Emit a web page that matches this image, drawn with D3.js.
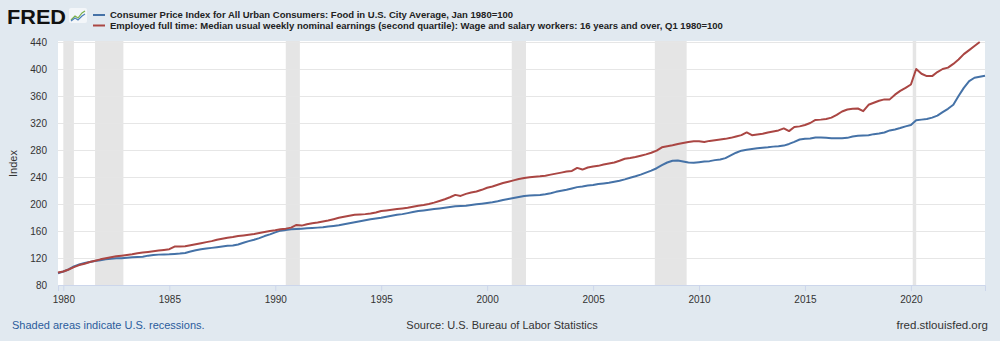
<!DOCTYPE html>
<html>
<head>
<meta charset="utf-8">
<script src="https://cdn.jsdelivr.net/npm/d3@7/dist/d3.min.js"></script>
<style>
  html, body { margin: 0; padding: 0; background: #e1e9f0; }
  svg { display: block; font-family: "Liberation Sans", Arial, sans-serif; }
</style>
</head>
<body>
<svg id="chart" width="1000" height="341"></svg>
<script>
// Quarterly observations, first quarter = 1979 Q4
const firstQuarter = "1979-10-01";

// Consumer Price Index for All Urban Consumers: Food, Jan 1980=100
const cpiFood = [
  97.5,
  100, 103, 107.5, 110.5,
  112.5, 114, 115.5, 116.5,
  118, 119, 119.5, 119.8,
  120.5, 121, 121.5, 122,
  123.5, 124.5, 125, 125.2,
  125.5, 126, 126.5, 127.5,
  129.5, 131.5, 133, 134,
  135, 136, 137, 138,
  138.5, 140, 142.5, 145,
  147, 149.5, 152.5, 155,
  158, 160.5, 161.5, 162.5,
  163, 163.5, 164, 164.5,
  165, 165.5, 166.5, 167.5,
  168.5, 170, 171.5, 173,
  174.5, 176, 177.5, 178.5,
  179.5, 181, 182.5, 184,
  185, 186.5, 188, 189.5,
  190.5, 191.5, 192.5, 193.5,
  194.5, 195.5, 196.5, 197,
  197.5, 198.5, 199.5, 200.5,
  201.5, 202.5, 204, 206,
  207.5, 209, 210.5, 212,
  212.5, 213, 213.5, 214.5,
  216, 218, 219.5, 221,
  223, 225, 226, 227.5,
  228, 229.5, 230.5, 231.5,
  233, 234.5, 236.5, 239,
  241, 243.5, 246.5, 249.5,
  253, 257.5, 261.5, 264,
  264.5, 263, 261.5, 261,
  262, 263, 263.5, 265,
  266, 268, 272, 276,
  279, 280.5, 281.5, 282.5,
  283.5, 284, 285, 285.5,
  286.5, 289, 292, 295.5,
  296.5, 297, 298.5, 298.5,
  298, 297.5, 297.5, 297.5,
  298, 300, 301, 301.5,
  302, 303.5, 304.5, 306,
  309, 310.5, 312.5, 315,
  317, 324, 325, 326,
  328, 331, 336, 341,
  347, 360, 372, 382,
  387, 388.5, 390
];

// Employed full time: median usual weekly nominal earnings, Q1 1980=100
const earnings = [
  98.5,
  100, 103, 106.5, 109.5,
  111.5, 114, 116, 118,
  119.5, 121, 122.5, 123.5,
  124.5, 125.5, 127, 128,
  129, 130, 131, 132,
  133, 137, 137, 137.5,
  139, 140.5, 142, 143.5,
  145, 147, 148.5, 150,
  151, 152.5, 153.5, 154.5,
  155.5, 157, 158.5, 160,
  161, 162.5, 163.5, 165,
  169, 168, 170, 171.5,
  172.5, 174, 175.5, 177.5,
  179.5, 181, 182.5, 184,
  184.5, 185, 186, 187.5,
  189.5, 190.5, 191.5, 192.5,
  193.5, 194.5, 196, 197.5,
  198.5, 200, 202, 204.5,
  207, 210, 213.5, 212,
  215, 217, 218.5, 221,
  224, 226, 228.5, 231,
  233, 235, 237, 238.5,
  239.5, 240.5, 241, 242,
  243.5, 245, 246.5, 248,
  249, 253.5, 251, 254,
  255.5, 256.5, 258.5, 260,
  261.5, 264, 267, 268,
  269.5, 271.5, 273.5, 276,
  279, 284, 285.5, 287,
  289, 290.5, 292, 293,
  293, 292, 293.5, 294.5,
  295.5, 296.5, 298, 300,
  302, 306, 302, 303,
  304, 306, 307.5, 309,
  312, 308, 314, 315,
  317, 320, 324.5, 325,
  326, 328, 332, 337,
  340, 341, 341.5, 337.5,
  347, 350, 353, 355,
  355, 362, 367.5, 372,
  377, 400, 393, 389.5,
  389.5, 395.5, 400, 402,
  407.5, 414, 422, 428,
  434, 440
];

// NBER recession periods
const recessionStarts = ["1980-01-01", "1981-07-01", "1990-07-01", "2001-03-01", "2007-12-01", "2020-02-01"];
const recessionEnds   = ["1980-07-01", "1982-11-01", "1991-03-01", "2001-11-01", "2009-06-01", "2020-04-01"];

const yTicks = [80, 120, 160, 200, 240, 280, 320, 360, 400, 440];
const xTickYears = [1980, 1985, 1990, 1995, 2000, 2005, 2010, 2015, 2020];

const seriesNames = [
  "Consumer Price Index for All Urban Consumers: Food in U.S. City Average, Jan 1980=100",
  "Employed full time: Median usual weekly nominal earnings (second quartile): Wage and salary workers: 16 years and over, Q1 1980=100"
];
const seriesColors = ["#4572a7", "#aa4643"];

const parse = d3.utcParse("%Y-%m-%d");
const start = parse(firstQuarter);
const toPoints = vals => vals.map((v, i) => ({ date: d3.utcMonth.offset(start, 3 * i), value: v }));

const svg = d3.select("#chart");
const plot = { left: 58, right: 985, top: 42, bottom: 285 };

const x = d3.scaleUtc()
  .domain([parse("1979-10-01"), parse("2023-07-01")])
  .range([plot.left, plot.right]);
const y = d3.scaleLinear().domain([80, 440]).range([plot.bottom, plot.top]);

// plot background
svg.append("rect")
  .attr("x", plot.left).attr("y", plot.top - 1)
  .attr("width", plot.right - plot.left).attr("height", plot.bottom - plot.top + 1)
  .attr("fill", "#ffffff");

// recession shading
svg.append("g").selectAll("rect")
  .data(recessionStarts.map((s, i) => [parse(s), parse(recessionEnds[i])]))
  .join("rect")
  .attr("x", d => x(d[0]))
  .attr("width", d => x(d[1]) - x(d[0]))
  .attr("y", plot.top - 1)
  .attr("height", plot.bottom - plot.top + 1)
  .attr("fill", "#e5e5e5");

// horizontal grid + y labels
const yAxis = d3.axisLeft(y).tickValues(yTicks).tickSize(-(plot.right - plot.left)).tickPadding(11);
const gy = svg.append("g").attr("transform", `translate(${plot.left},0)`).call(yAxis);
gy.select(".domain").remove();
gy.selectAll(".tick line").attr("stroke", "#e6e6e6").attr("stroke-width", 1);
gy.selectAll(".tick text")
  .attr("fill", "#333").attr("font-size", "10px")
  .attr("font-family", "'Liberation Sans', Arial, sans-serif");

// x axis
const xAxis = d3.axisBottom(x)
  .tickValues(xTickYears.map(yr => new Date(Date.UTC(yr, 0, 1))))
  .tickFormat(d3.utcFormat("%Y"))
  .tickSize(6).tickPadding(5);
const gx = svg.append("g").attr("transform", `translate(0,${plot.bottom})`).call(xAxis);
gx.select(".domain").attr("stroke", "#ccd6eb");
gx.selectAll(".tick line").attr("stroke", "#ccd6eb");
gx.selectAll(".tick text")
  .attr("fill", "#333").attr("font-size", "10px")
  .attr("font-family", "'Liberation Sans', Arial, sans-serif");

// y axis title
svg.append("text")
  .attr("transform", `translate(17,${(plot.top + plot.bottom) / 2}) rotate(-90)`)
  .attr("text-anchor", "middle")
  .attr("font-size", "11px").attr("fill", "#333")
  .text("Index");

// series lines
const line = d3.line().x(d => x(d.date)).y(d => y(d.value));
[cpiFood, earnings].forEach((vals, i) => {
  svg.append("path")
    .datum(toPoints(vals))
    .attr("fill", "none")
    .attr("stroke", seriesColors[i])
    .attr("stroke-width", 2)
    .attr("stroke-linejoin", "round")
    .attr("d", line);
});

// FRED logo
svg.append("text")
  .attr("x", 7).attr("y", 24)
  .attr("font-size", "21px").attr("font-weight", 900)
  .attr("textLength", 59).attr("lengthAdjust", "spacingAndGlyphs")
  .attr("fill", "#111")
  .text("FRED");
const icon = svg.append("g").attr("transform", "translate(69,8)");
icon.append("rect").attr("width", 18).attr("height", 15).attr("rx", 2).attr("fill", "#f3f6f9");
icon.append("polyline")
  .attr("points", "2,12 6,8 9,10 13,5 16,3")
  .attr("fill", "none").attr("stroke", "#7bb04a").attr("stroke-width", 1.2);
icon.append("polyline")
  .attr("points", "2,13 6,10 9,12 13,8 16,6")
  .attr("fill", "none").attr("stroke", "#4a7fb8").attr("stroke-width", 1.2);

// legend
seriesNames.forEach((name, i) => {
  const ly = 15 + i * 10.5;
  svg.append("line")
    .attr("x1", 93).attr("x2", 105).attr("y1", ly).attr("y2", ly)
    .attr("stroke", seriesColors[i]).attr("stroke-width", 2);
  svg.append("text")
    .attr("x", 110).attr("y", ly + 3.4)
    .attr("font-size", "9.5px").attr("font-weight", "bold").attr("fill", "#222")
    .text(name);
});

// footer
svg.append("text")
  .attr("x", 12).attr("y", 329)
  .attr("font-size", "11px").attr("fill", "#2b5c9c")
  .text("Shaded areas indicate U.S. recessions.");
svg.append("text")
  .attr("x", 502).attr("y", 329).attr("text-anchor", "middle")
  .attr("font-size", "11px").attr("fill", "#333")
  .text("Source: U.S. Bureau of Labor Statistics");
svg.append("text")
  .attr("x", 988).attr("y", 329).attr("text-anchor", "end")
  .attr("font-size", "11.5px").attr("fill", "#333")
  .text("fred.stlouisfed.org");
</script>
</body>
</html>
